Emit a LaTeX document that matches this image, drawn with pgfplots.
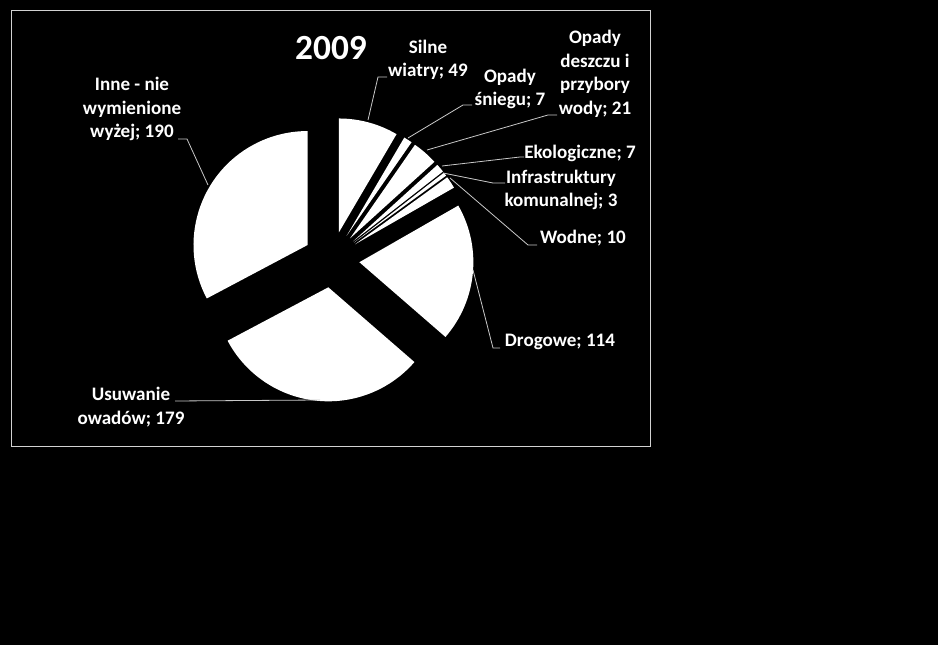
\documentclass[border=0pt]{standalone}
\usepackage{fontspec}
\setmainfont{Carlito}
\usepackage{pgfplots}
\usepackage{pgfplotstable}
\pgfplotsset{compat=1.18}

\definecolor{leader}{RGB}{200,200,200}
\definecolor{frame}{RGB}{210,210,210}

% zdarzenia 2009
\pgfplotstableread{
kategoria value
wiatry 49
snieg 7
deszcz 21
eko 7
infra 3
wodne 10
drogowe 114
owady 179
inne 190
}\piedata

\begin{document}
\begin{tikzpicture}[
    lbl/.style={text=white, align=center, inner sep=0pt,
        font=\bfseries\fontsize{14.3}{17.7}\selectfont},
    ]
\fill[black] (0,0) rectangle (703.5pt,483.75pt);
\begin{axis}[
    at={(0,0)}, anchor=south west,
    width=703.5pt, height=483.75pt, scale only axis,
    xmin=0, xmax=938, ymin=0, ymax=645, y dir=reverse,
    hide axis, clip=false,
    ]
\draw[frame, line width=0.75pt] (axis cs:11,11) rectangle (axis cs:650,446);

% suma
\def\total{0}
\pgfplotsforeachungrouped \i in {0,...,8}{%
    \pgfplotstablegetelem{\i}{value}\of\piedata
    \pgfmathsetmacro\total{\total+\pgfplotsretval}%
}
% wycinki, kazdy odsuniety od srodka
\def\cum{0}
\pgfplotsforeachungrouped \i in {0,...,8}{%
    \pgfplotstablegetelem{\i}{value}\of\piedata
    \pgfmathsetmacro\a{90-\cum/\total*360}%
    \pgfmathsetmacro\cum{\cum+\pgfplotsretval}%
    \pgfmathsetmacro\b{90-\cum/\total*360}%
    \pgfmathsetmacro\m{(\a+\b)/2}%
    \edef\temp{\noexpand\fill[white] (axis cs:331.5,259.5) ++(\m:21pt)
        -- ++(\a:85.5pt) arc[start angle=\a, end angle=\b, radius=85.5pt] -- cycle;}%
    \temp
}

\node[text=white, inner sep=0pt, font=\bfseries\fontsize{26.5}{30}\selectfont]
    at (axis cs:331,48) {2009};

\draw[leader, line width=0.6pt] (axis cs:208,185) -- (axis cs:187,139) -- (axis cs:178,139);
\draw[leader, line width=0.6pt] (axis cs:368,120) -- (axis cs:378,77) -- (axis cs:387,77);
\draw[leader, line width=0.6pt] (axis cs:408,138) -- (axis cs:463,105) -- (axis cs:472,105);
\draw[leader, line width=0.6pt] (axis cs:427,150) -- (axis cs:548,115) -- (axis cs:557,115);
\draw[leader, line width=0.6pt] (axis cs:442,166) -- (axis cs:520,157) -- (axis cs:524,157);
\draw[leader, line width=0.6pt] (axis cs:443,173) -- (axis cs:493,183) -- (axis cs:505,183);
\draw[leader, line width=0.6pt] (axis cs:450,178) -- (axis cs:528,245) -- (axis cs:537,245);
\draw[leader, line width=0.6pt] (axis cs:473,270) -- (axis cs:493,348) -- (axis cs:500,348);
\draw[leader, line width=0.6pt] (axis cs:320,400) -- (axis cs:175,401);

\node[lbl] at (axis cs:132,109) {Inne - nie\\wymienione\\wyżej; 190};
\node[lbl] at (axis cs:428,60) {Silne\\wiatry; 49};
\node[lbl] at (axis cs:510,89) {Opady\\śniegu; 7};
\node[lbl] at (axis cs:595,74) {Opady\\deszczu i\\przybory\\wody; 21};
\node[lbl] at (axis cs:580,153) {Ekologiczne; 7};
\node[lbl] at (axis cs:561,190) {Infrastruktury\\komunalnej; 3};
\node[lbl] at (axis cs:583,238) {Wodne; 10};
\node[lbl] at (axis cs:560,342) {Drogowe; 114};
\node[lbl] at (axis cs:131,407) {Usuwanie\\owadów; 179};
\end{axis}
\end{tikzpicture}
\end{document}
